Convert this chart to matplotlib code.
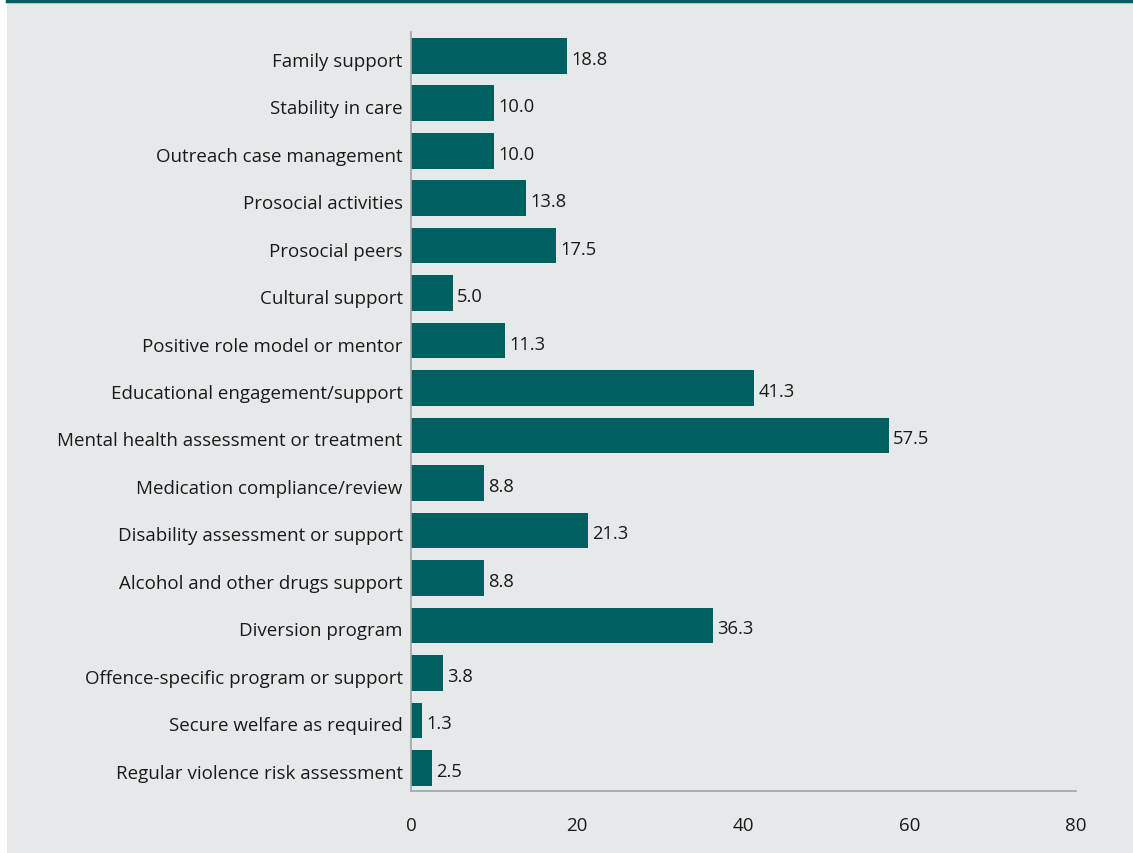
import matplotlib
matplotlib.use("Agg")
import matplotlib.pyplot as plt
from matplotlib.lines import Line2D
from matplotlib.patches import Rectangle

categories = [
    "Family support",
    "Stability in care",
    "Outreach case management",
    "Prosocial activities",
    "Prosocial peers",
    "Cultural support",
    "Positive role model or mentor",
    "Educational engagement/support",
    "Mental health assessment or treatment",
    "Medication compliance/review",
    "Disability assessment or support",
    "Alcohol and other drugs support",
    "Diversion program",
    "Offence-specific program or support",
    "Secure welfare as required",
    "Regular violence risk assessment",
]
values = [18.8, 10.0, 10.0, 13.8, 17.5, 5.0, 11.3, 41.3, 57.5, 8.8, 21.3, 8.8, 36.3, 3.8, 1.3, 2.5]
x_ticks = [0, 20, 40, 60, 80]

BG = "#e6e9ea"
BAR = "#005f60"
TEXT = "#1a1a1a"

plt.rcParams["font.family"] = ["Open Sans", "DejaVu Sans"]

W, H = 1133, 854
fig = plt.figure(figsize=(W / 100, H / 100), dpi=100)
fig.patch.set_facecolor("white")

# panel background and top rule
fig.patches.append(Rectangle((7 / W, 0), 1 - 7 / W, 1, transform=fig.transFigure,
                             facecolor=BG, edgecolor="none", zorder=-10))
fig.lines.append(Line2D([7 / W, 1], [1 - 1.5 / H, 1 - 1.5 / H], transform=fig.transFigure,
                        color=BAR, linewidth=2.5))

left, right = 411 / W, 1076 / W
top, bottom = 1 - 33 / H, 1 - 792 / H
ax = fig.add_axes([left, bottom, right - left, top - bottom])
ax.set_facecolor(BG)

ypos = list(range(len(categories)))
ax.barh(ypos, values, height=0.75, color=BAR, zorder=2)
for y, v in zip(ypos, values):
    ax.text(v + 0.5, y + 0.06, f"{v:.1f}", va="center", ha="left", fontsize=13.2, color=TEXT)

ax.set_xlim(0, 80)
ax.set_ylim(15.484, -0.5)
ax.set_yticks([y + 0.06 for y in ypos])
ax.set_yticklabels(categories, fontsize=13.5, color=TEXT)
ax.set_xticks(x_ticks)
ax.set_xticklabels([str(t) for t in x_ticks], fontsize=13.5, color=TEXT)
ax.tick_params(axis="both", length=0)
ax.tick_params(axis="y", pad=6)
ax.tick_params(axis="x", pad=18)

for s in ["top", "right"]:
    ax.spines[s].set_visible(False)
for s in ["left", "bottom"]:
    ax.spines[s].set_color("#a0a4a6")
    ax.spines[s].set_linewidth(1.2)

fig.savefig("out.png", dpi=100, facecolor=fig.get_facecolor())
